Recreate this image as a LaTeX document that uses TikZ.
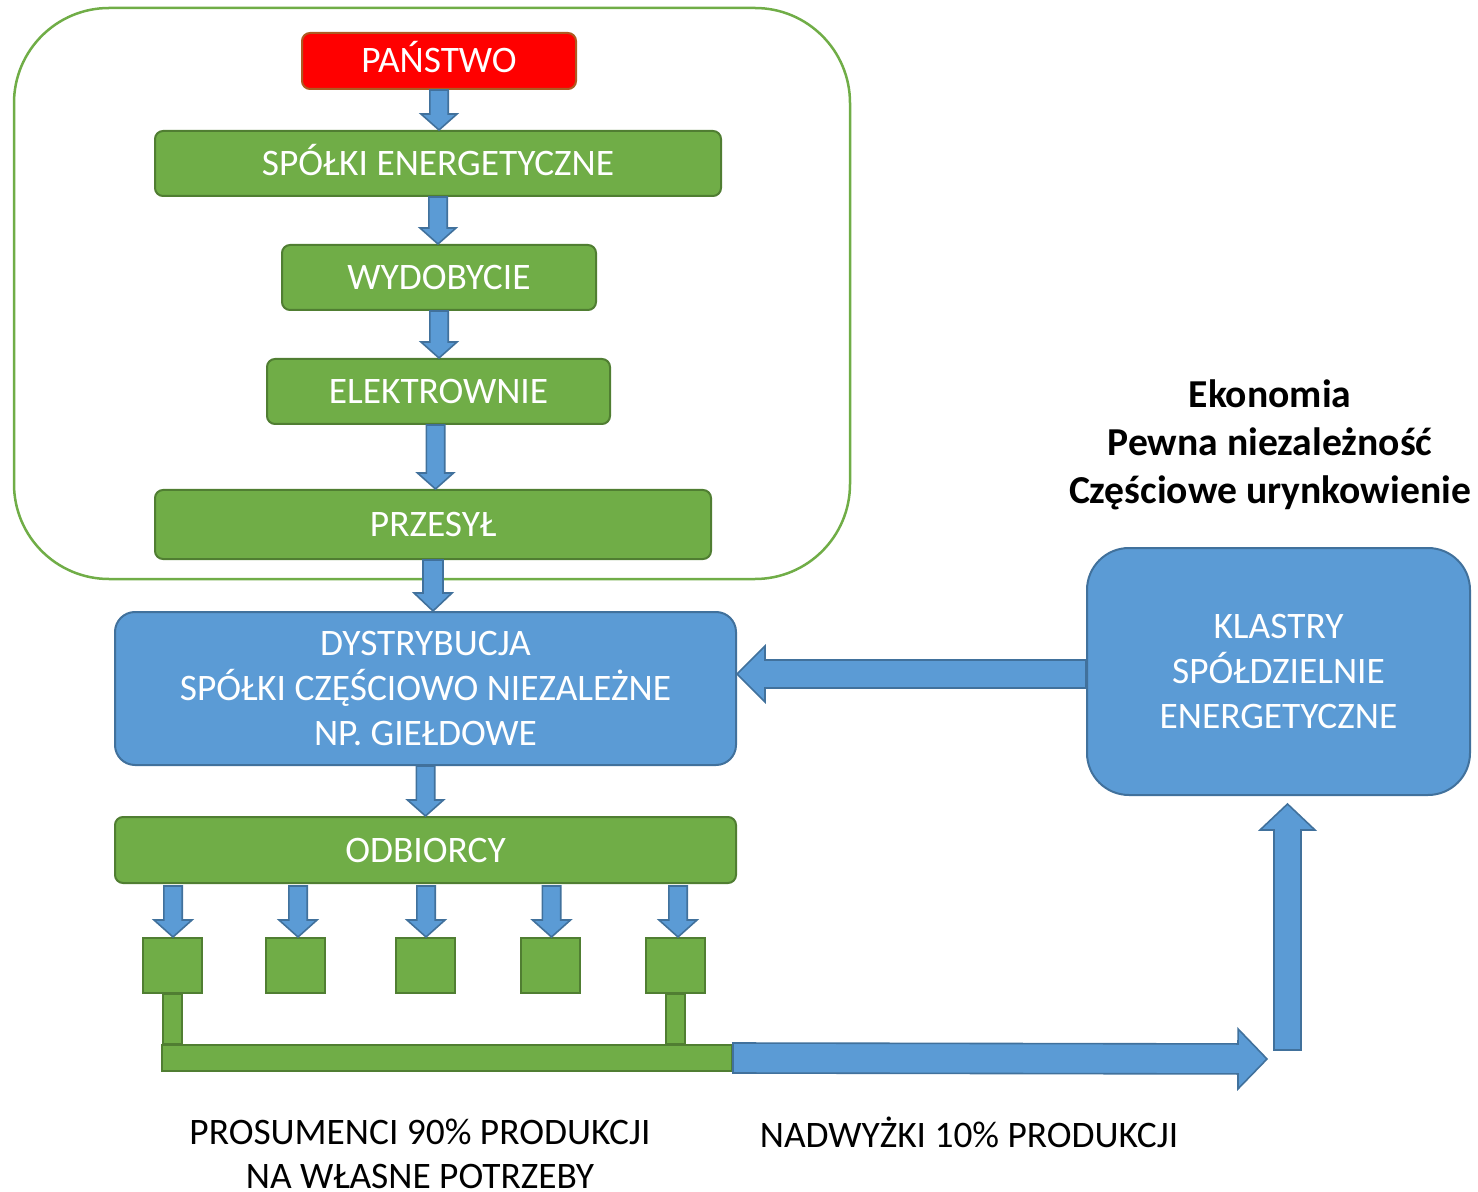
\documentclass[tikz,border=0pt]{standalone}
\usepackage{fontspec}
\setmainfont{Carlito}
\usetikzlibrary{calc}

\definecolor{grfill}{HTML}{70AD47}
\definecolor{grline}{HTML}{507E32}
\definecolor{blfill}{HTML}{5B9BD5}
\definecolor{blline}{HTML}{41719C}
\definecolor{stline}{HTML}{AE5A21}

\tikzset{
  txtbase/.style={font=\fontsize{18.7}{22.5}\selectfont, inner sep=0pt},
  txt/.style={txtbase, align=center},
  oneline/.style={txtbase, text height=12pt, text depth=0pt},
  gbox/.style={oneline, draw=grline, fill=grfill, line width=1pt, rounded corners=4pt, text=white},
  sqbox/.style={draw=grline, fill=grfill, line width=1pt, minimum width=29.5pt, minimum height=27.5pt, inner sep=0pt},
  bbox/.style={txt, draw=blline, fill=blfill, line width=1pt, text=white},
  stbox/.style={oneline, draw=stline, fill=red, line width=1pt, rounded corners=4pt, text=white},
  frame/.style={draw=grfill, line width=1.25pt, rounded corners=47.5pt, inner sep=0pt},
  barrow/.style={draw=blline, fill=blfill, line width=0.8pt, line join=miter},
  gbar/.style={draw=grline, fill=grfill, line width=1pt},
}

% block arrow: from, to, shaft half-width, head half-width, head length
\newcommand\blockarrow[5]{%
  \coordinate (ba-s) at #1;
  \coordinate (ba-e) at #2;
  \coordinate (ba-h) at ($(ba-e)!#5!(ba-s)$);
  \draw[barrow] ($(ba-s)!#3!90:(ba-e)$) -- ($(ba-h)!#3!90:(ba-e)$)
    -- ($(ba-h)!#4!90:(ba-e)$) -- (ba-e) -- ($(ba-h)!#4!-90:(ba-e)$)
    -- ($(ba-h)!#3!-90:(ba-e)$) -- ($(ba-s)!#3!-90:(ba-e)$) -- cycle;
}

\begin{document}
\begin{tikzpicture}[x=0.5pt, y=-0.5pt]
  \useasboundingbox (0,0) rectangle (1478,1192);

  % state-owned part of the sector
  \node[frame, minimum width=418pt, minimum height=285.5pt] (core) at (432,293.5) {};

  \node[stbox, minimum width=137pt, minimum height=28pt] (pan) at (439,61) {PAŃSTWO};
  \node[gbox, minimum width=283pt, minimum height=32.5pt] (spolki) at (438,163.5) {SPÓŁKI ENERGETYCZNE};
  \node[gbox, minimum width=157pt, minimum height=32.5pt] (wyd) at (439,277.5) {WYDOBYCIE};
  \node[gbox, minimum width=171.5pt, minimum height=32.5pt] (elek) at (438.5,391.5) {ELEKTROWNIE};
  \node[gbox, minimum width=278pt, minimum height=34.5pt] (przesyl) at (433,524.5) {PRZESYŁ};

  \node[bbox, rounded corners=10pt, minimum width=310.5pt, minimum height=76.5pt] (dyst) at (425.5,688.5)
    {DYSTRYBUCJA\\SPÓŁKI CZĘŚCIOWO NIEZALEŻNE\\NP. GIEŁDOWE};
  \node[gbox, minimum width=310.5pt, minimum height=33pt] (odb) at (425.5,850) {ODBIORCY};

  \node[bbox, rounded corners=21pt, minimum width=191.5pt, minimum height=123.5pt] (klastry) at (1278.5,671.5)
    {KLASTRY\\SPÓŁDZIELNIE\\ENERGETYCZNE};

  % consumers
  \node[sqbox] (sq1) at (172.5,965.5) {};
  \node[sqbox] (sq2) at (295.5,965.5) {};
  \node[sqbox] (sq3) at (425.5,965.5) {};
  \node[sqbox] (sq4) at (550.5,965.5) {};
  \node[sqbox] (sq5) at (675.5,965.5) {};

  % prosumer bus
  \node[gbar, minimum width=285pt, minimum height=13pt, inner sep=0pt] (bus) at (447,1058) {};
  \draw[gbar] ($(sq1.south)+(-9.5,0)$) rectangle ($(sq1.south |- bus.north)+(9.5,0)$);
  \draw[gbar] ($(sq5.south)+(-9.5,0)$) rectangle ($(sq5.south |- bus.north)+(9.5,0)$);

  % titles and captions
  \node[txt, font=\fontsize{19.8}{24}\selectfont\bfseries] (title) at (1270,445)
    {Ekonomia\\Pewna niezależność\\Częściowe urynkowienie};
  \node[txt, font=\fontsize{18.7}{22}\selectfont] (prosum) at (420,1153.5)
    {PROSUMENCI 90\% PRODUKCJI\\NA WŁASNE POTRZEBY};
  \node[txt] (nadw) at (969,1132.5) {NADWYŻKI 10\% PRODUKCJI};

  % flow arrows
  \blockarrow{(pan.south)}{(pan.south |- spolki.north)}{4.6pt}{9pt}{8pt}
  \blockarrow{(spolki.south)}{(spolki.south |- wyd.north)}{4.6pt}{9pt}{8pt}
  \blockarrow{(wyd.south)}{(wyd.south |- elek.north)}{4.6pt}{9pt}{8pt}
  \blockarrow{($(elek.south)+(-3,0)$)}{($(elek.south |- przesyl.north)+(-3,0)$)}{4.6pt}{9pt}{8pt}
  \blockarrow{(przesyl.south)}{(przesyl.south |- dyst.north)}{5pt}{9.5pt}{9pt}
  \blockarrow{(dyst.south)}{(dyst.south |- odb.north)}{4.6pt}{9pt}{8pt}

  \blockarrow{($(sq1.north |- odb.south)+(0.5,2)$)}{($(sq1.north)+(0.5,0)$)}{4.6pt}{9.5pt}{8.5pt}
  \blockarrow{($(sq2.north |- odb.south)+(2.5,2)$)}{($(sq2.north)+(2.5,0)$)}{4.6pt}{9.5pt}{8.5pt}
  \blockarrow{($(sq3.north |- odb.south)+(0.5,2)$)}{($(sq3.north)+(0.5,0)$)}{4.6pt}{9.5pt}{8.5pt}
  \blockarrow{($(sq4.north |- odb.south)+(1,2)$)}{($(sq4.north)+(1,0)$)}{4.6pt}{9.5pt}{8.5pt}
  \blockarrow{($(sq5.north |- odb.south)+(2.5,2)$)}{($(sq5.north)+(2.5,0)$)}{4.6pt}{9.5pt}{8.5pt}

  % surplus to clusters and back to distribution
  \coordinate (surplus) at (1267,1059);
  \coordinate (upstart) at (1287.5,1050);
  \blockarrow{(bus.east)}{(surplus)}{7.5pt}{15pt}{14.5pt}
  \blockarrow{(upstart)}{($(upstart |- klastry.south)+(0,8)$)}{6.75pt}{13.75pt}{13pt}
  \blockarrow{($(klastry.west)+(0,2.5)$)}{($(dyst.east |- klastry.west)+(0,2.5)$)}{7pt}{14pt}{14pt}
\end{tikzpicture}
\end{document}
